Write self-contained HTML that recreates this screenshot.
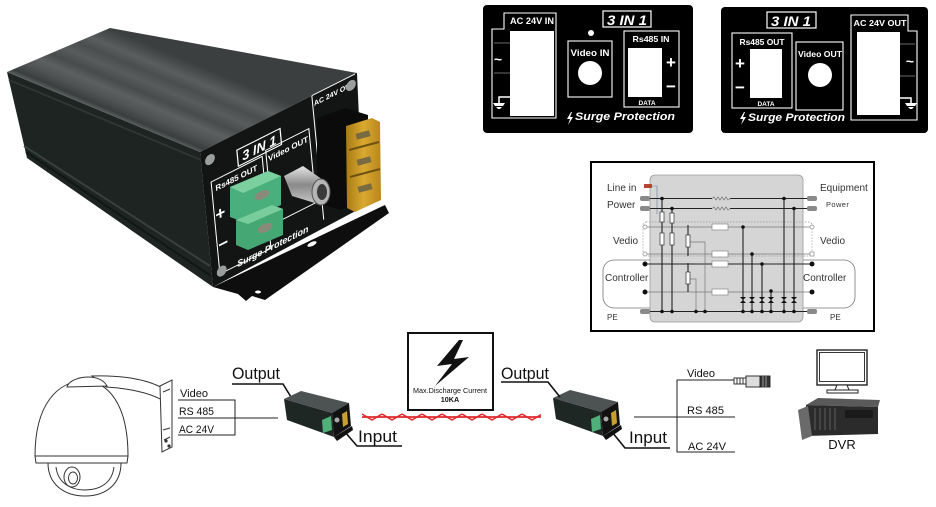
<!DOCTYPE html>
<html><head><meta charset="utf-8">
<style>
html,body{margin:0;padding:0;background:#fff;}
svg{display:block;}
text{font-family:"Liberation Sans",Arial,sans-serif;}
</style></head><body>
<svg width="936" height="507" viewBox="0 0 936 507" xmlns="http://www.w3.org/2000/svg">
<defs>
<linearGradient id="topg" gradientUnits="userSpaceOnUse" x1="7" y1="72" x2="38" y2="-2">
<stop offset="0" stop-color="#5e6262"/>
<stop offset="0.06" stop-color="#3a3e3e"/>
<stop offset="0.18" stop-color="#4f5353"/>
<stop offset="0.3" stop-color="#5c6060"/>
<stop offset="0.42" stop-color="#474b4b"/>
<stop offset="0.55" stop-color="#585c5c"/>
<stop offset="0.68" stop-color="#4a4e4e"/>
<stop offset="0.8" stop-color="#5a5e5e"/>
<stop offset="0.92" stop-color="#474b4b"/>
<stop offset="1" stop-color="#3b3f3f"/>
</linearGradient>
<linearGradient id="amb" x1="0" y1="0" x2="1" y2="0">
<stop offset="0" stop-color="#a87a14"/>
<stop offset="0.5" stop-color="#d9a930"/>
<stop offset="1" stop-color="#b8861c"/>
</linearGradient>
<linearGradient id="silv" x1="0" y1="0" x2="0" y2="1">
<stop offset="0" stop-color="#e6e6e6"/>
<stop offset="0.5" stop-color="#8a8a8a"/>
<stop offset="1" stop-color="#c8c8c8"/>
</linearGradient>
<pattern id="tw" x="362" y="412" width="20" height="10" patternUnits="userSpaceOnUse">
<path d="M0,2 L10,8 L20,2" fill="none" stroke="#e0282c" stroke-width="1.6"/>
<path d="M0,5 L20,5" fill="none" stroke="#e0282c" stroke-width="1.8"/>
</pattern>
</defs>

<!-- ============ BIG DEVICE PHOTO ============ -->
<polygon points="7,72 110,28 357,73 200,152" fill="url(#topg)"/>
<polygon points="7,72 200,152 213,287 27,158" fill="#1d2422"/>
<path d="M9,80 L201,160" stroke="#2e3634" stroke-width="2"/>
<path d="M24,146 L210,266" stroke="#37403e" stroke-width="2"/>
<path d="M26,152 L211,276" stroke="#121715" stroke-width="2"/>
<polygon points="200,152 357,73 363,207 213,287" fill="#131515"/>
<!-- bracket -->
<polygon points="213,287 385,205 389,213 265,300 252,296 246,301 238,294" fill="#0e0e0e"/>
<ellipse cx="312" cy="244" rx="5" ry="2" fill="#fff" transform="rotate(-25 312 244)"/>
<ellipse cx="258" cy="292" rx="3" ry="1.5" fill="#fff"/>
<!-- front panel details -->
<g transform="matrix(0.981,-0.494,0.096,1,200,152)">
<rect x="36" y="16" width="44" height="16" fill="none" stroke="#fff" stroke-width="1.2"/>
<text x="58" y="29" font-size="13" font-weight="bold" font-style="italic" fill="#fff" text-anchor="middle">3 IN 1</text>
<rect x="8" y="34" width="52" height="92" fill="none" stroke="#fff" stroke-width="1"/>
<text x="33" y="45" font-size="8" font-weight="bold" fill="#fff" text-anchor="middle">Rs485 OUT</text>
<text x="14" y="74" font-size="17" font-weight="bold" fill="#fff" text-anchor="middle">+</text>
<text x="14" y="104" font-size="17" font-weight="bold" fill="#fff" text-anchor="middle">−</text>
<rect x="64" y="30" width="44" height="74" fill="none" stroke="#fff" stroke-width="1"/>
<text x="86" y="42" font-size="8" font-weight="bold" fill="#fff" text-anchor="middle">Video OUT</text>
<path d="M114,124 L114,0 M114,0 L158,0" fill="none" stroke="#fff" stroke-width="1"/>
<text x="136" y="11" font-size="7" font-weight="bold" fill="#fff" text-anchor="middle">AC 24V OUT</text>
<text x="62" y="128" font-size="9" font-weight="bold" font-style="italic" fill="#fff" text-anchor="middle">Surge Protection</text>
<circle cx="9" cy="12" r="5" fill="#9a9e9c"/>
<circle cx="153" cy="9" r="5" fill="#9a9e9c"/>
<circle cx="10" cy="124" r="5" fill="#9a9e9c"/>
</g>
<!-- AC terminal holder -->
<polygon points="317,118 345,108 368,115 368,200 340,210 317,203" fill="#0b0b0b"/>
<polygon points="346,126 372,118 380,122 381,200 355,212 347,208" fill="url(#amb)"/>
<path d="M349,150 L379,142 M350,177 L380,169" stroke="#6e5210" stroke-width="2"/>
<rect x="356" y="132" width="14" height="6" fill="#7a6a40" transform="rotate(-15 363 135)"/>
<rect x="357" y="158" width="14" height="6" fill="#7a6a40" transform="rotate(-15 364 161)"/>
<rect x="358" y="185" width="14" height="6" fill="#7a6a40" transform="rotate(-15 365 188)"/>
<!-- BNC -->
<polygon points="284,176 303,166 326,182 318,204 292,196" fill="url(#silv)"/>
<ellipse cx="321" cy="192" rx="9" ry="13" fill="#b5b5b5" stroke="#555" stroke-width="1"/>
<ellipse cx="322" cy="192" rx="5" ry="8" fill="#3a3a3a"/>
<!-- green terminal -->
<polygon points="230,187 268,171 281,176 281,205 243,222 230,217" fill="#49b07d"/>
<polygon points="230,187 268,171 281,176 243,193" fill="#7ccf9f"/>
<polygon points="236,220 272,205 283,209 283,235 248,250 236,245" fill="#45a874"/>
<polygon points="236,220 272,205 283,209 248,224" fill="#79cc9c"/>
<ellipse cx="262" cy="195" rx="8" ry="4" fill="#8a8a7a" transform="rotate(-25 262 195)"/>
<ellipse cx="265" cy="228" rx="8" ry="4" fill="#8a8a7a" transform="rotate(-25 265 228)"/>

<!-- ============ PANEL 1 ============ -->
<rect x="483" y="5" width="210" height="128" rx="4" fill="#000"/>
<path d="M504,29 L504,13 L556,13 L556,118 L492,118 L492,29 Z" fill="none" stroke="#fff" stroke-width="1.1"/>
<rect x="510" y="31" width="44" height="85" fill="#fff"/>
<text x="532" y="24" font-size="9" font-weight="bold" fill="#fff" text-anchor="middle" textLength="44" lengthAdjust="spacingAndGlyphs">AC 24V IN</text>
<path d="M494,43 L510,43 M494,73 L510,73" stroke="#555" stroke-width="1.2"/>
<text x="498" y="64" font-size="14" font-weight="bold" fill="#fff" text-anchor="middle">~</text>
<path d="M510,97 L499,97 L499,103" fill="none" stroke="#fff" stroke-width="1.5"/>
<path d="M493,103 L505,103 L503,106 L495,106 Z M496,107 L502,107 L500,109 L498,109 Z" fill="#fff"/>
<rect x="603" y="11" width="48" height="16" fill="none" stroke="#fff" stroke-width="1.2"/>
<text x="627" y="25" font-size="14" font-weight="bold" font-style="italic" fill="#fff" text-anchor="middle" textLength="40" lengthAdjust="spacingAndGlyphs">3 IN 1</text>
<circle cx="591" cy="33" r="3" fill="#fff"/>
<rect x="568" y="41" width="44" height="56" fill="none" stroke="#fff" stroke-width="1.1"/>
<text x="590" y="56" font-size="9" font-weight="bold" fill="#fff" text-anchor="middle" textLength="39" lengthAdjust="spacingAndGlyphs">Video IN</text>
<circle cx="590" cy="73" r="12" fill="#fff"/>
<rect x="624" y="31" width="55" height="76" fill="none" stroke="#fff" stroke-width="1.1"/>
<text x="651" y="42" font-size="8.5" font-weight="bold" fill="#fff" text-anchor="middle" textLength="37" lengthAdjust="spacingAndGlyphs">Rs485 IN</text>
<rect x="628" y="48" width="34" height="49" fill="#fff"/>
<text x="671" y="68" font-size="17" font-weight="bold" fill="#fff" text-anchor="middle">+</text>
<text x="671" y="92" font-size="17" font-weight="bold" fill="#fff" text-anchor="middle">−</text>
<text x="647" y="105" font-size="6.5" font-weight="bold" fill="#fff" text-anchor="middle">DATA</text>
<path d="M571,112 L567,119 L570,119 L568,125 L573,117 L570,117 L572,112 Z" fill="#fff"/>
<text x="575" y="120" font-size="11" font-weight="bold" font-style="italic" fill="#fff" textLength="100" lengthAdjust="spacingAndGlyphs">Surge Protection</text>

<!-- ============ PANEL 2 ============ -->
<rect x="721" y="7" width="207" height="126" rx="4" fill="#000"/>
<rect x="767" y="12" width="49" height="16" fill="none" stroke="#fff" stroke-width="1.2"/>
<text x="791" y="26" font-size="14" font-weight="bold" font-style="italic" fill="#fff" text-anchor="middle" textLength="40" lengthAdjust="spacingAndGlyphs">3 IN 1</text>
<rect x="732" y="33" width="60" height="75" fill="none" stroke="#fff" stroke-width="1.1"/>
<text x="762" y="45" font-size="8.5" font-weight="bold" fill="#fff" text-anchor="middle" textLength="45" lengthAdjust="spacingAndGlyphs">Rs485 OUT</text>
<rect x="750" y="49" width="32" height="49" fill="#fff"/>
<text x="740" y="69" font-size="17" font-weight="bold" fill="#fff" text-anchor="middle">+</text>
<text x="740" y="93" font-size="17" font-weight="bold" fill="#fff" text-anchor="middle">−</text>
<text x="766" y="106" font-size="6.5" font-weight="bold" fill="#fff" text-anchor="middle">DATA</text>
<rect x="796" y="42" width="47" height="68" fill="none" stroke="#fff" stroke-width="1.1"/>
<text x="820" y="57" font-size="8.5" font-weight="bold" fill="#fff" text-anchor="middle" textLength="44" lengthAdjust="spacingAndGlyphs">Video OUT</text>
<circle cx="820" cy="75" r="12" fill="#fff"/>
<path d="M851,120 L851,15 L908,15 L908,31 L917,31 L917,120 Z" fill="none" stroke="#fff" stroke-width="1.1"/>
<text x="880" y="26" font-size="8.5" font-weight="bold" fill="#fff" text-anchor="middle" textLength="53" lengthAdjust="spacingAndGlyphs">AC 24V OUT</text>
<rect x="857" y="32" width="43" height="83" fill="#fff"/>
<path d="M900,44 L915,44 M900,76 L915,76" stroke="#555" stroke-width="1.2"/>
<text x="910" y="66" font-size="14" font-weight="bold" fill="#fff" text-anchor="middle">~</text>
<path d="M900,98 L911,98 L911,103" fill="none" stroke="#fff" stroke-width="1.5"/>
<path d="M905,103 L917,103 L915,106 L907,106 Z M908,107 L914,107 L912,109 L910,109 Z" fill="#fff"/>
<path d="M744,112 L740,119 L743,119 L741,125 L746,117 L743,117 L745,112 Z" fill="#fff"/>
<text x="748" y="121" font-size="11" font-weight="bold" font-style="italic" fill="#fff" textLength="97" lengthAdjust="spacingAndGlyphs">Surge Protection</text>

<!-- ============ SCHEMATIC ============ -->
<rect x="591" y="162" width="283" height="169" fill="#fff" stroke="#000" stroke-width="2"/>
<rect x="603" y="260" width="252" height="48" rx="11" fill="none" stroke="#777" stroke-width="0.8"/>
<rect x="650" y="175" width="153" height="147" rx="5" fill="#d5d5d5" stroke="#9a9a9a" stroke-width="0.8"/>
<rect x="643" y="222" width="169" height="34" rx="3" fill="none" stroke="#999" stroke-width="0.7" stroke-dasharray="1.5,1.5"/>
<g font-size="10" fill="#333">
<text x="607" y="191">Line in</text>
<text x="607" y="208">Power</text>
<text x="613" y="244">Vedio</text>
<text x="605" y="281">Controller</text>
<text x="607" y="320" font-size="8">PE</text>
<text x="820" y="191">Equipment</text>
<text x="826" y="207" font-size="7.5" letter-spacing="0.4">Power</text>
<text x="820" y="244">Vedio</text>
<text x="803" y="281">Controller</text>
<text x="830" y="320" font-size="8">PE</text>
</g>
<!-- connectors -->
<g fill="#8a8a8a">
<rect x="640" y="196" width="10" height="5" rx="2"/>
<rect x="640" y="206" width="10" height="5" rx="2"/>
<rect x="640" y="309" width="10" height="5" rx="2"/>
<rect x="807" y="196" width="10" height="5" rx="2"/>
<rect x="807" y="206" width="10" height="5" rx="2"/>
<rect x="807" y="309" width="10" height="5" rx="2"/>
</g>
<rect x="644" y="184" width="8" height="4" fill="#b5462e"/>
<path d="M652,186 L657,186 L657,214" fill="none" stroke="#6a7a9a" stroke-width="0.6"/>
<!-- horizontal lines -->
<g stroke="#222" stroke-width="1.1" fill="none">
<path d="M650,198.5 L712,198.5 M730,198.5 L807,198.5"/>
<path d="M650,208.5 L712,208.5 M730,208.5 L807,208.5"/>
<path d="M646,264 L812,264"/>
<path d="M650,311.5 L807,311.5"/>
</g>
<g stroke="#777" stroke-width="0.7" fill="none">
<path d="M712,198.5 l2,-1.5 l2,3 l2,-3 l2,3 l2,-3 l2,3 l2,-3 l2,3 l2,-1.5"/>
<path d="M712,208.5 l2,-1.5 l2,3 l2,-3 l2,3 l2,-3 l2,3 l2,-3 l2,3 l2,-1.5"/>
<path d="M647,227 L810,227"/>
<path d="M647,254 L810,254"/>
<path d="M646,292 L812,292"/>
<path d="M690,242 L705,242 L705,311"/>
<path d="M690,279 L696,279 L696,311"/>
</g>
<g fill="#fff" stroke="#888" stroke-width="0.7">
<rect x="712" y="224" width="16" height="6"/>
<rect x="712" y="251" width="16" height="6"/>
<rect x="712" y="261" width="16" height="6"/>
<rect x="712" y="289" width="16" height="6"/>
<circle cx="645" cy="227" r="2"/>
<circle cx="812" cy="227" r="2"/>
<circle cx="645" cy="254" r="2"/>
<rect x="810" y="252" width="4" height="4"/>
</g>
<!-- verticals -->
<g stroke="#222" stroke-width="1.1">
<path d="M662,198 L662,311 M672,208 L672,311 M743,227 L743,311 M752,254 L752,311 M762,264 L762,311 M771,291 L771,311 M784,198 L784,311 M794,208 L794,311"/>
<path d="M688,225 L688,256 M688,263 L688,292"/>
</g>
<g fill="#fff" stroke="#333" stroke-width="0.7">
<rect x="660" y="212" width="4" height="10"/>
<rect x="670" y="213" width="4" height="10"/>
<rect x="660" y="233" width="4" height="12"/>
<rect x="670" y="233" width="4" height="12"/>
<rect x="686" y="235" width="4" height="12"/>
<rect x="686" y="272" width="4" height="12"/>
</g>
<g fill="#111">
<circle cx="645" cy="264" r="2.5"/><circle cx="812" cy="264" r="2.5"/>
<circle cx="645" cy="292" r="2.5"/><circle cx="812" cy="292" r="2.5"/>
<circle cx="662" cy="198.5" r="1.8"/><circle cx="672" cy="208.5" r="1.8"/>
<circle cx="784" cy="198.5" r="1.8"/><circle cx="794" cy="208.5" r="1.8"/>
<circle cx="743" cy="227" r="1.8"/><circle cx="752" cy="254" r="1.8"/>
<circle cx="762" cy="264" r="1.8"/><circle cx="771" cy="291" r="1.8"/>
<circle cx="662" cy="311.5" r="1.8"/><circle cx="672" cy="311.5" r="1.8"/>
<circle cx="696" cy="311.5" r="1.8"/><circle cx="705" cy="311.5" r="1.8"/>
<circle cx="743" cy="311.5" r="1.8"/><circle cx="752" cy="311.5" r="1.8"/>
<circle cx="762" cy="311.5" r="1.8"/><circle cx="771" cy="311.5" r="1.8"/>
<circle cx="784" cy="311.5" r="1.8"/><circle cx="794" cy="311.5" r="1.8"/>
<path d="M740,297 L746,297 L743,300 Z M740,303 L746,303 L743,300 Z"/>
<path d="M749,297 L755,297 L752,300 Z M749,303 L755,303 L752,300 Z"/>
<path d="M759,297 L765,297 L762,300 Z M759,303 L765,303 L762,300 Z"/>
<path d="M768,297 L774,297 L771,300 Z M768,303 L774,303 L771,300 Z"/>
<path d="M781,297 L787,297 L784,300 Z M781,303 L787,303 L784,300 Z"/>
<path d="M791,297 L797,297 L794,300 Z M791,303 L797,303 L794,300 Z"/>
</g>

<!-- ============ CAMERA ============ -->
<g fill="#fff" stroke="#333" stroke-width="1">
<path d="M92,376 C120,375 148,379 164,389 L162,400 C148,392 125,388 106,387 Z"/>
<path d="M160,386 L172,380 L172,447 L162,452 Z"/>
<path d="M163,392 L170,389 M163,430 L170,428 M164,440 L170,437"/>
<path d="M35,456 C35,404 58,381 84,381 C108,381 128,404 128,456 Z"/>
<path d="M67,387 C70,376 100,372 107,386 Z"/>
<path d="M35,456 L128,456 L127,463 L36,463 Z"/>
<path d="M48,463 C48,484 64,496 85,496 C106,496 121,484 121,463 Z"/>
<path d="M56,467 C58,484 72,490 85,490 C100,490 112,483 114,467"/>
<ellipse cx="72" cy="477" rx="8" ry="10"/>
<ellipse cx="73" cy="478" rx="4.5" ry="6"/>
</g>
<circle cx="166" cy="441" r="1.6" fill="#333"/>
<circle cx="169" cy="446" r="1.6" fill="#333"/>

<!-- left wires -->
<g stroke="#222" stroke-width="1" fill="none">
<path d="M178,400 L235,400 L235,435 L178,435"/>
<path d="M178,418 L278,418"/>
</g>
<g font-size="11" fill="#111">
<text x="180" y="397">Video</text>
<text x="179" y="415" textLength="35" lengthAdjust="spacingAndGlyphs">RS 485</text>
<text x="179" y="433" textLength="35" lengthAdjust="spacingAndGlyphs">AC 24V</text>
</g>

<!-- Output / Input 1 -->
<text x="232" y="379" font-size="17" fill="#111" textLength="48" lengthAdjust="spacingAndGlyphs">Output</text>
<path d="M232,384 L283,384 L291,397" fill="none" stroke="#111" stroke-width="1.6"/>
<text x="358" y="442" font-size="17" fill="#111" textLength="39" lengthAdjust="spacingAndGlyphs">Input</text>
<path d="M345,432 L357,446 L402,446" fill="none" stroke="#111" stroke-width="1.6"/>

<!-- small device 1 & 2 -->
<g>
<polygon points="284,399 301,391 349,403 332,413" fill="#4d5252"/>
<polygon points="284,399 332,413 334,437 287,420" fill="#1f2725"/>
<polygon points="332,413 349,403 351,426 334,437" fill="#121212"/>
<polygon points="334,437 352,426 353,430 337,441" fill="#111"/>
<polygon points="342,414 347,411 348,424 343,427" fill="#c9a030"/>
<polygon points="322,420 331,416 332,430 323,433" fill="#4fb07a"/>
<circle cx="337" cy="420" r="2.5" fill="#aaa"/>
</g>
<g transform="translate(269,-1)">
<polygon points="284,399 301,391 349,403 332,413" fill="#4d5252"/>
<polygon points="284,399 332,413 334,437 287,420" fill="#1f2725"/>
<polygon points="332,413 349,403 351,426 334,437" fill="#121212"/>
<polygon points="334,437 352,426 353,430 337,441" fill="#111"/>
<polygon points="342,414 347,411 348,424 343,427" fill="#c9a030"/>
<polygon points="322,420 331,416 332,430 323,433" fill="#4fb07a"/>
<circle cx="337" cy="420" r="2.5" fill="#aaa"/>
</g>

<!-- red twisted wire -->
<rect x="362" y="412" width="179" height="10" fill="url(#tw)"/>

<!-- lightning box -->
<rect x="408" y="333" width="85" height="77" fill="#fff" stroke="#111" stroke-width="2"/>
<path d="M459,340 L437,366 L452,364 L435,386 L469,357 L454,359 L463,340 Z" fill="#111"/>
<text x="450" y="393" font-size="7.2" fill="#111" text-anchor="middle" textLength="74" lengthAdjust="spacingAndGlyphs">Max.Discharge Current</text>
<text x="450" y="402" font-size="7.2" font-weight="bold" fill="#111" text-anchor="middle">10KA</text>

<!-- Output / Input 2 -->
<text x="501" y="379" font-size="17" fill="#111" textLength="48" lengthAdjust="spacingAndGlyphs">Output</text>
<path d="M501,382 L548,382 L560,397" fill="none" stroke="#111" stroke-width="1.6"/>
<text x="629" y="443" font-size="17" fill="#111" textLength="38" lengthAdjust="spacingAndGlyphs">Input</text>
<path d="M612,432 L625,448 L670,448" fill="none" stroke="#111" stroke-width="1.6"/>

<!-- right wires -->
<g stroke="#222" stroke-width="1" fill="none">
<path d="M734,380 L677,380 L677,452 L735,452"/>
<path d="M634,417 L735,417"/>
</g>
<g font-size="11" fill="#111">
<text x="687" y="377">Video</text>
<text x="687" y="414" textLength="37" lengthAdjust="spacingAndGlyphs">RS 485</text>
<text x="688" y="450" textLength="38" lengthAdjust="spacingAndGlyphs">AC 24V</text>
</g>
<!-- BNC plug -->
<g stroke="#222" stroke-width="0.9" fill="#fff">
<rect x="734" y="378" width="12" height="6"/>
<path d="M737,378 L737,384 M740,378 L740,384 M743,378 L743,384"/>
<rect x="746" y="376" width="14" height="11" fill="#ddd"/>
<rect x="760" y="376" width="10" height="11" fill="#333"/>
<path d="M763,376 L763,387 M766,376 L766,387" stroke="#aaa"/>
</g>

<!-- monitor -->
<rect x="817" y="350" width="50" height="35" fill="#fff" stroke="#222" stroke-width="1.4"/>
<rect x="819.5" y="352.5" width="45" height="29" fill="#fff" stroke="#222" stroke-width="0.9"/>
<path d="M837,385 L847,385 L849,390 L835,390 Z" fill="#fff" stroke="#222" stroke-width="1"/>
<rect x="827" y="390" width="31" height="3" fill="#fff" stroke="#222" stroke-width="1"/>

<!-- DVR -->
<polygon points="806,405 818,398 880,400 878,407" fill="#5a5a5a"/>
<polygon points="806,405 878,407 878,434 806,436" fill="#2b2b2b"/>
<polygon points="798,410 808,406 812,436 802,440" fill="#6a6a6a"/>
<g stroke="#555" stroke-width="1.2">
<path d="M815,408 L815,430 M820,408 L820,430 M825,408 L825,430 M830,408 L830,430 M835,408 L835,430"/>
</g>
<rect x="845" y="410" width="28" height="8" fill="#1a1a1a"/>
<text x="842" y="449" font-size="13" fill="#111" text-anchor="middle">DVR</text>
</svg>
</body></html>
